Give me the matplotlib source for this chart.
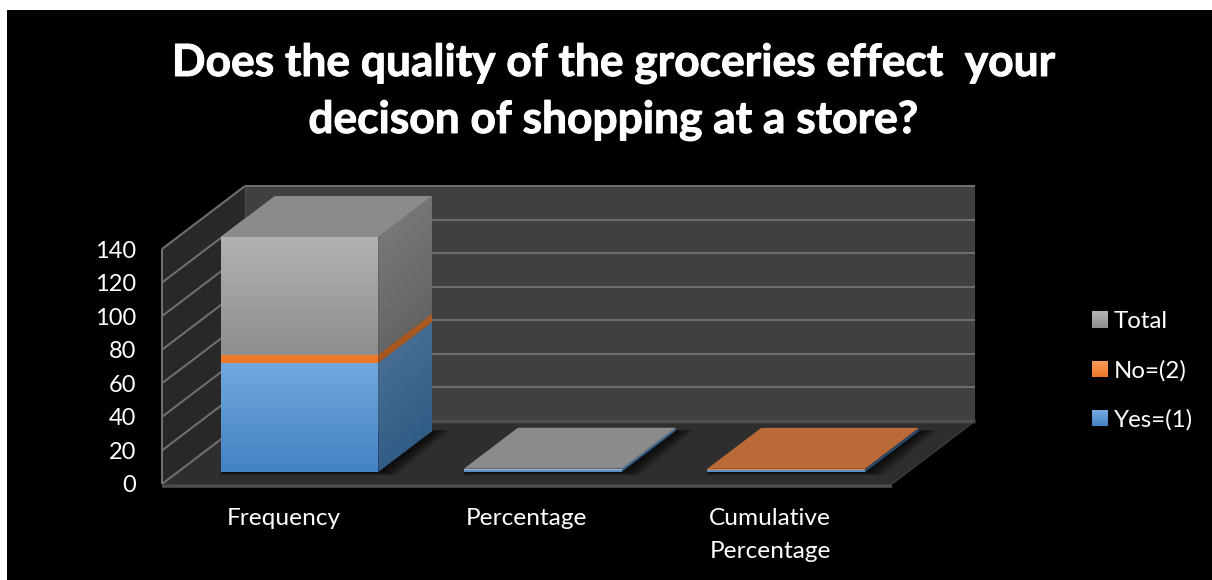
import numpy as np
import matplotlib
matplotlib.use("Agg")
import matplotlib.pyplot as plt
import matplotlib.patheffects as pe
from matplotlib.colors import to_rgb, LinearSegmentedColormap
from matplotlib.legend_handler import HandlerBase
from matplotlib.patches import Patch, Polygon, Rectangle

# Survey results
categories = ["Frequency", "Percentage", "Cumulative\nPercentage"]
yes_values = [65, 0.9286, 0.9286]
no_values = [5, 0.0714, 1.0]
total_values = [70, 1.0, 0]
value_ticks = [0, 20, 40, 60, 80, 100, 120, 140]
title_text = "Does the quality of the groceries effect  your\ndecison of shopping at a store?"

W, H = 1212, 580
plt.rcParams["font.family"] = ["Lato", "DejaVu Sans"]

fig = plt.figure(figsize=(W / 100, H / 100), dpi=100, facecolor="white")
fig.patches.append(Rectangle((7 / W, 0), 1, (H - 10) / H, transform=fig.transFigure,
                             facecolor="black", edgecolor="none", zorder=-10))

# Front plane of the plot box, in pixels
FX0, FX1, FY0, FY1 = 162, 892, 484, 249
ax = fig.add_axes([FX0 / W, (H - FY0) / H, (FX1 - FX0) / W, (FY0 - FY1) / H])
ax.set_xlim(0, 3)
ax.set_ylim(0, 140)
ax.patch.set_visible(False)
for sp in ax.spines.values():
    sp.set_visible(False)

# Oblique depth: full depth moves a point this many data units right and up
DX = 83 / ((FX1 - FX0) / 3)
DY = 63 / ((FY0 - FY1) / 140)


def pt(x, v, d=0.0):
    return (x + d * DX, v + d * DY)


def poly(pts, color, z, **kw):
    p = Polygon(pts, closed=True, facecolor=color, edgecolor="none", zorder=z,
                clip_on=False, **kw)
    ax.add_patch(p)
    return p


def gradient_face(pts, stops, z, angle="v"):
    """Fill a polygon with a vertical or diagonal colour ramp."""
    pts = np.array(pts)
    cmap = LinearSegmentedColormap.from_list("face", [to_rgb(c) for c in stops])
    grid = np.linspace(0, 1, 128)
    if angle == "v":
        img = np.tile(grid[:, None], (1, 4))
    else:
        gx, gy = np.meshgrid(grid, grid)
        img = 0.75 * gy + 0.25 * gx
    x0, x1 = pts[:, 0].min(), pts[:, 0].max()
    y0, y1 = pts[:, 1].min(), pts[:, 1].max()
    im = ax.imshow(img, cmap=cmap, vmin=0, vmax=1, extent=(x0, x1, y0, y1),
                   origin="upper", aspect="auto", zorder=z, interpolation="bilinear")
    clip = Polygon(pts, closed=True, transform=ax.transData, facecolor="none", edgecolor="none")
    im.set_clip_box(fig.bbox)
    im.set_clip_path(clip)


def line(a, b, color="#6e6e6e", lw=1.5, z=2):
    ax.plot([a[0], b[0]], [a[1], b[1]], color=color, lw=lw, zorder=z,
            clip_on=False, solid_capstyle="butt")


# Walls and floor
poly([pt(0, 0), pt(0, 140), pt(0, 140, 1), pt(0, 0, 1)], "#282828", 1)
poly([pt(0, 0, 1), pt(0, 140, 1), pt(3, 140, 1), pt(3, 0, 1)], "#404040", 1)
poly([pt(0, 0), pt(3, 0), pt(3, 0, 1), pt(0, 0, 1)], "#2e2e2e", 1.5)

for v in value_ticks[1:]:
    line(pt(0, v), pt(0, v, 1))
    line(pt(0, v, 1), pt(3, v, 1))
line(pt(0, 0), pt(0, 140), lw=1.5)
line(pt(0, 0, 1), pt(0, 140, 1), color="#4a4a4a", lw=1)
line(pt(0, 0), pt(0, 0, 1), color="#6e6e6e", lw=1.5)
line(pt(0, 0, 1), pt(3, 0, 1), color="#4e4e4e", lw=2.5)
line(pt(0, -0.9), pt(3, -0.9), color="#4d4d4d", lw=2.6)
line(pt(3, 0), pt(3, 0, 1), color="#3c3c3c", lw=1)

BAR_W = 0.648
D0, D1 = 0.19, 0.84
THIN = 3  # segments thinner than this are filled flat

front_stops = {
    "yes": ("#72a8df", "#4382c3"),
    "no": ("#f47c2e", "#ee7627"),
    "total": ("#b2b2b2", "#8e8e8e"),
}
side_stops = {
    "yes": ("#4f7399", "#295680"),
    "no": ("#b0612a", "#a0531d"),
    "total": ("#7d7d7d", "#5e5e5e"),
}
top_colors = {"yes": "#5b8cbe", "no": "#b96a37", "total": "#8b8b8b"}
thin_front = {"yes": "#5a8fc4", "no": "#d9894f", "total": "#9db8d0"}
thin_side = {"yes": "#2b5a85", "no": "#2f4d6a", "total": "#5f83a5"}

for i in range(len(categories)):
    left = i + 0.5 - BAR_W / 2
    right = left + BAR_W

    # Soft shadow cast onto the floor, reaching furthest to the right
    layers = 12
    for k in range(layers, 0, -1):
        f = k / layers
        poly([pt(left - 0.02 * f + 0.01, -2.0 * f, D0),
              pt(right + 0.075 * f, -2.0 * f, D0),
              pt(right + 0.075 * f, 0.6 * f, D1),
              pt(left - 0.02 * f + 0.01, 0.6 * f, D1)],
             "black", 2.5, alpha=0.085)

    base = 0.0
    segments = [("yes", yes_values[i]), ("no", no_values[i]), ("total", total_values[i])]
    segments = [(key, val) for key, val in segments if val > 0]
    for idx, (key, val) in enumerate(segments):
        top = base + val
        z = 3 + idx
        side = [pt(right, base, D0), pt(right, top, D0), pt(right, top, D1), pt(right, base, D1)]
        front = [pt(left, base, D0), pt(right, base, D0), pt(right, top, D0), pt(left, top, D0)]
        if val < THIN:
            poly(side, thin_side[key], z)
            poly(front, thin_front[key], z + 0.2)
        else:
            gradient_face(side, side_stops[key], z, angle="d")
            gradient_face(front, front_stops[key], z + 0.2)
        # Only the uppermost segment of a stack shows its top face
        if idx == len(segments) - 1:
            poly([pt(left, top, D0), pt(right, top, D0), pt(right, top, D1), pt(left, top, D1)],
                 top_colors[key], z + 0.1)
        base = top

ax.set_xlim(0, 3)
ax.set_ylim(0, 140)

# Axis labels
ax.set_yticks(value_ticks)
ax.set_xticks([0.5, 1.5, 2.5], categories, linespacing=1.7)
ax.tick_params(axis="y", length=0, pad=18.5, labelsize=17, labelcolor="white")
ax.tick_params(axis="x", length=0, pad=17, labelsize=17.6, labelcolor="white")

title = fig.suptitle(title_text, x=613 / W, y=1 - 43 / H, va="top", color="white",
                     fontsize=31.9, fontweight="bold", linespacing=1.5)
title.set_path_effects([pe.withStroke(linewidth=0.7, foreground="white")])


class GradientSwatch(HandlerBase):
    """Legend key shaded as a stack of thin horizontal bands."""

    def __init__(self, stops):
        super().__init__()
        self.stops = stops

    def create_artists(self, legend, orig_handle, xd, yd, width, height, fontsize, trans):
        c0, c1 = np.array(to_rgb(self.stops[0])), np.array(to_rgb(self.stops[1]))
        size = 11.5
        y0 = -yd + (height - size) / 2
        bands = []
        n = 12
        for j in range(n):
            t = j / (n - 1)
            bands.append(Rectangle((-xd, y0 + size * j / n), size, size / n + 0.1,
                                   facecolor=c1 * (1 - t) + c0 * t, edgecolor="none",
                                   transform=trans))
        return bands


h_total = Patch(label="Total")
h_no = Patch(label="No=(2)")
h_yes = Patch(label="Yes=(1)")
fig.legend(handles=[h_total, h_no, h_yes], frameon=False, loc="upper left",
           bbox_to_anchor=(1092 / W, 1 - 311 / H), borderaxespad=0, borderpad=0,
           fontsize=17.3, labelcolor="white", labelspacing=1.163, handlelength=0.66,
           handletextpad=0.25,
           handler_map={h_total: GradientSwatch(("#b2b2b2", "#8e8e8e")),
                        h_no: GradientSwatch(("#f99a5a", "#ee7627")),
                        h_yes: GradientSwatch(("#72a8df", "#4382c3"))})

fig.savefig("out.png", dpi=100, facecolor="white")
